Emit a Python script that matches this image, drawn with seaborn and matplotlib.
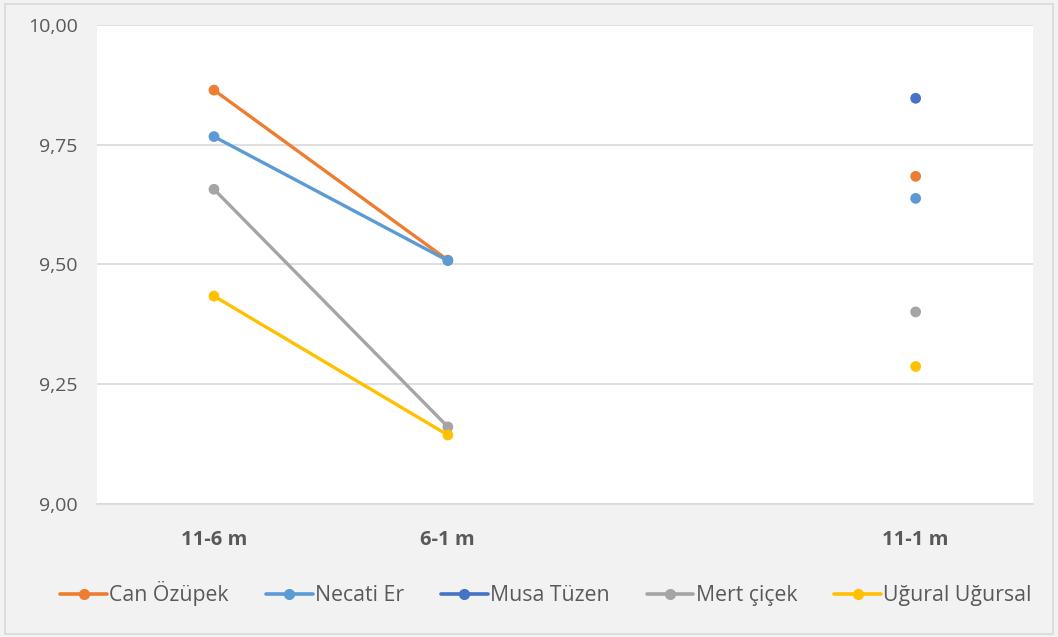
import numpy as np
import pandas as pd
import matplotlib
matplotlib.use("Agg")
import matplotlib.pyplot as plt
from matplotlib.lines import Line2D
from matplotlib.patches import Rectangle
import seaborn as sns

categories = ["11-6 m", "6-1 m", "", "11-1 m"]
series_names = ["Can Özüpek", "Necati Er", "Musa Tüzen", "Mert çiçek", "Uğural Uğursal"]
can_ozupek = [9.864, 9.509, np.nan, 9.684]
necati_er = [9.767, 9.508, np.nan, 9.638]
musa_tuzen = [np.nan, np.nan, np.nan, 9.847]
mert_cicek = [9.657, 9.161, np.nan, 9.401]
ugural_ugursal = [9.434, 9.144, np.nan, 9.287]
colors = ["#ED7D31", "#5B9BD5", "#4472C4", "#A5A5A5", "#FFC000"]
y_ticks = [9.00, 9.25, 9.50, 9.75, 10.00]

values = [can_ozupek, necati_er, musa_tuzen, mert_cicek, ugural_ugursal]
rows = []
for name, vals in zip(series_names, values):
    for i, (cat, v) in enumerate(zip(categories, vals)):
        rows.append({"series": name, "cat": cat, "pos": i, "value": v})
df = pd.DataFrame(rows)

sns.set_theme(style="white")
plt.rcParams["font.family"] = ["Open Sans", "DejaVu Sans"]

fig = plt.figure(figsize=(10.58, 6.37), dpi=100, facecolor="#F2F2F2")
ax = fig.add_axes([0.0917, 0.2088, 0.976 - 0.0917, 0.9608 - 0.2088])
ax.set_facecolor("white")

palette = dict(zip(series_names, colors))

for name in series_names:
    sub = df[df["series"] == name].sort_values("pos")
    vals = sub["value"].to_numpy()
    pos = sub["pos"].to_numpy()
    run = []
    runs = []
    for p, v in zip(pos, vals):
        if np.isnan(v):
            if run:
                runs.append(run)
            run = []
        else:
            run.append(p)
    if run:
        runs.append(run)
    for r in runs:
        d = sub[sub["pos"].isin(r)]
        if len(r) > 1:
            sns.lineplot(data=d, x="pos", y="value", color=palette[name],
                         linewidth=2.4, ax=ax, legend=False, zorder=2)
        sns.scatterplot(data=d, x="pos", y="value", color=palette[name],
                        s=60, edgecolor="none", ax=ax, legend=False, zorder=3)

ax.set_xlim(-0.5, len(categories) - 0.5)
ax.set_ylim(9.0, 10.0)
ax.set_xticks(range(len(categories)))
ax.set_xticklabels(categories, fontsize=14.5, fontweight="bold", color="#595959")
ax.set_yticks(y_ticks)
ax.set_yticklabels([f"{t:.2f}".replace(".", ",") for t in y_ticks], fontsize=14, color="#595959")
ax.tick_params(axis="both", length=0)
ax.tick_params(axis="x", pad=19)
ax.tick_params(axis="y", pad=14)
ax.set_xlabel("")
ax.set_ylabel("")
ax.grid(axis="y", color="#D9D9D9", linewidth=1.2)
ax.set_axisbelow(True)
for s in ["left", "right", "top"]:
    ax.spines[s].set_visible(False)
ax.spines["bottom"].set_color("#D9D9D9")
ax.spines["bottom"].set_linewidth(1.2)

handles = [Line2D([0], [0], color=c, linewidth=2.6, marker="o", markersize=7) for c in colors]
fig.legend(handles, series_names, loc="center", bbox_to_anchor=(0.516, 0.068), ncol=5,
           frameon=False, fontsize=15.3, handlelength=2.2, handletextpad=0.1,
           columnspacing=1.75, labelcolor="#595959")

fig.patches.append(Rectangle((0.005, 0.005), 0.99, 0.988, transform=fig.transFigure,
                             fill=False, edgecolor="#D9D9D9", linewidth=1.2))

fig.savefig("out.png", dpi=100, facecolor=fig.get_facecolor())
